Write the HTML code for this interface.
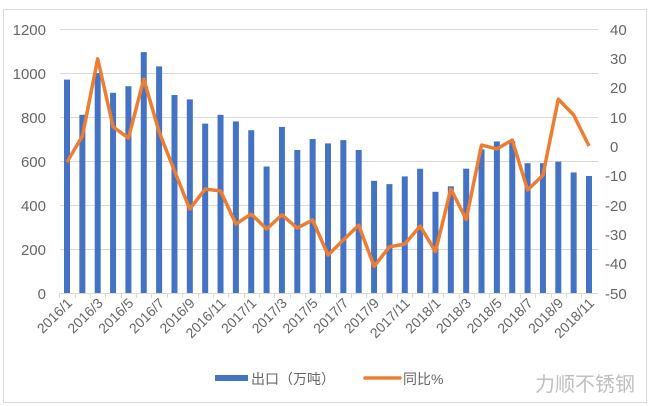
<!DOCTYPE html>
<html><head><meta charset="utf-8"><style>
html,body{margin:0;padding:0;background:#fff;}
svg{display:block;font-family:"Liberation Sans","Noto Sans CJK SC",sans-serif;}
</style></head><body>
<svg width="650" height="406" viewBox="0 0 650 406">
<rect x="3.5" y="9.5" width="643" height="393" fill="#fff" stroke="#d9d9d9"/>
<g stroke="#d9d9d9" stroke-width="1">
<line x1="60" y1="29.5" x2="598" y2="29.5"/>
<line x1="60" y1="73.5" x2="598" y2="73.5"/>
<line x1="60" y1="117.5" x2="598" y2="117.5"/>
<line x1="60" y1="161.5" x2="598" y2="161.5"/>
<line x1="60" y1="205.5" x2="598" y2="205.5"/>
<line x1="60" y1="249.5" x2="598" y2="249.5"/>
<line x1="60" y1="293.5" x2="598" y2="293.5"/>
</g>
<g font-size="15" fill="#666" text-anchor="end">
<text x="46" y="35">1200</text><text x="46" y="79">1000</text><text x="46" y="123">800</text>
<text x="46" y="167">600</text><text x="46" y="211">400</text><text x="46" y="255">200</text><text x="46" y="299">0</text>
</g>
<g font-size="15" fill="#666" text-anchor="start">
<text x="610" y="35">40</text><text x="610" y="64">30</text><text x="610" y="93">20</text>
<text x="610" y="123">10</text><text x="610" y="152">0</text><text x="605" y="181">-10</text>
<text x="605" y="211">-20</text><text x="605" y="240">-30</text><text x="605" y="269">-40</text><text x="605" y="299">-50</text>
</g>
<g id="bars" fill="#4472c4"></g>
<g id="ticks" stroke="#d9d9d9"></g>
<polyline id="line" fill="none" stroke="#ed7d31" stroke-width="3.5" stroke-linejoin="round" points=""/>
<g id="labels" font-size="14" fill="#666"></g>
<rect x="215" y="375" width="33" height="6" fill="#4472c4"/>
<text x="251" y="384" font-size="14" fill="#666">出口（万吨）</text>
<line x1="365" y1="378" x2="400" y2="378" stroke="#ed7d31" stroke-width="3.5" stroke-linecap="round"/>
<text x="403" y="384" font-size="14" fill="#666">同比%</text>
<text x="535" y="391" font-size="20" fill="#bfbfbf">力顺不锈钢</text>
</svg>
<script>
var b=[970,810,1000,910,940,1095,1030,900,880,770,810,780,740,575,755,650,700,680,695,650,510,495,530,565,460,485,565,653,689,690,590,590,597,548,532];
var l=[-5.5,3.4,29.7,6.5,2.7,22.8,4.8,-8.5,-21.5,-14.7,-15.3,-26.6,-23.2,-28.3,-23.5,-28,-25.2,-37.2,-32,-27,-41,-34.4,-33.4,-27.3,-36,-14.7,-25,0.3,-1,2,-15,-10,16,10.6,0];
var ns="http://www.w3.org/2000/svg",sp=(589-67)/34,pts=[];
var G=function(id){return document.getElementById(id);};
for(var i=0;i<35;i++){var x=67+i*sp;var h=b[i]*0.22;
var r=document.createElementNS(ns,"rect");r.setAttribute("x",x-3);r.setAttribute("y",293-h);r.setAttribute("width",6);r.setAttribute("height",h);G("bars").appendChild(r);
pts.push(x.toFixed(1)+","+(146-l[i]*2.933).toFixed(1));
var t=document.createElementNS(ns,"line");var tx=Math.round(x-sp/2)+0.5;t.setAttribute("x1",tx);t.setAttribute("x2",tx);t.setAttribute("y1",293);t.setAttribute("y2",298);G("ticks").appendChild(t);
if(i%2==0){var m=1+(i%12),y=2016+Math.floor(i/12);var tt=document.createElementNS(ns,"text");tt.setAttribute("text-anchor","end");tt.setAttribute("transform","translate("+(x+6)+",304) rotate(-45)");tt.textContent=y+"/"+m;G("labels").appendChild(tt);}}
G("line").setAttribute("points",pts.join(" "));
</script>
</body></html>
